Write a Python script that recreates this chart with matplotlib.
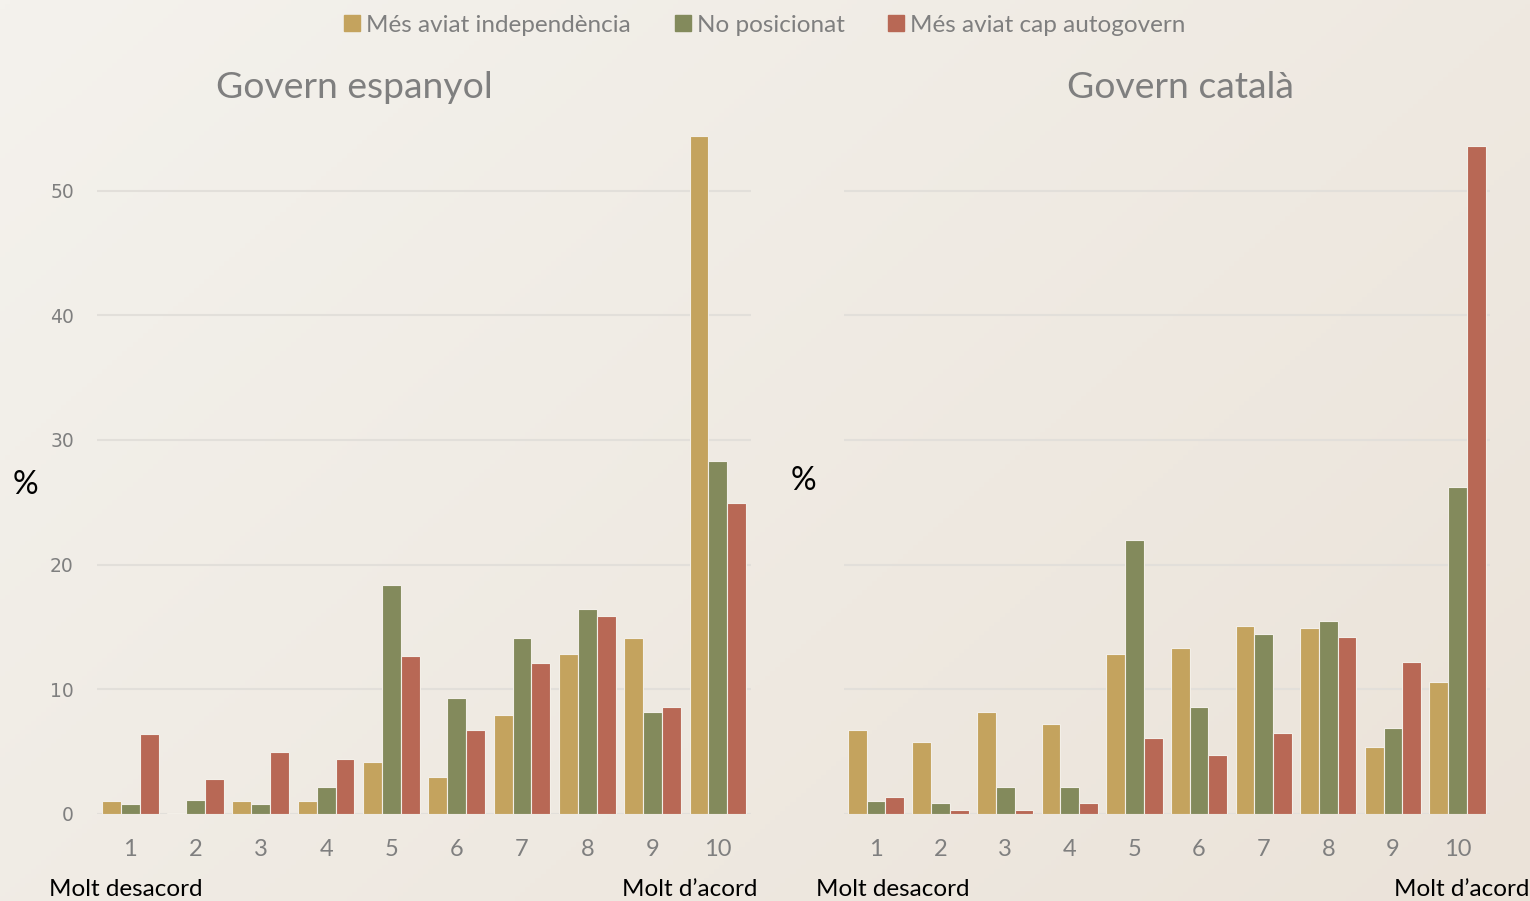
import numpy as np
import matplotlib.pyplot as plt
from matplotlib.colors import LinearSegmentedColormap
from matplotlib.patches import Patch

# values (%)
scale = ['1', '2', '3', '4', '5', '6', '7', '8', '9', '10']
series = ['Més aviat independència', 'No posicionat', 'Més aviat cap autogovern']
colors = ['#c4a35e', '#838a5c', '#b86855']

esp_indep = [1.0, 0.1, 1.0, 1.0, 4.2, 3.0, 7.9, 12.8, 14.1, 54.4]
esp_nopos = [0.8, 1.1, 0.8, 2.2, 18.4, 9.3, 14.1, 16.4, 8.2, 28.3]
esp_cap = [6.4, 2.8, 5.0, 4.4, 12.7, 6.7, 12.1, 15.9, 8.6, 24.9]

cat_indep = [6.7, 5.8, 8.2, 7.2, 12.8, 13.3, 15.1, 14.9, 5.4, 10.6]
cat_nopos = [1.0, 0.9, 2.2, 2.2, 22.0, 8.6, 14.4, 15.5, 6.9, 26.2]
cat_cap = [1.4, 0.3, 0.3, 0.9, 6.1, 4.7, 6.5, 14.2, 12.2, 53.6]

fig = plt.figure(figsize=(15.3, 9.01), dpi=100)

# soft beige gradient background
bg = fig.add_axes([0, 0, 1, 1], zorder=-10)
gx, gy = np.meshgrid(np.linspace(0, 1, 300), np.linspace(0, 1, 200))
grad = 0.6 * gx + 0.4 * gy
cmap = LinearSegmentedColormap.from_list('bg', ['#f4f2ed', '#ebe3d9'])
bg.imshow(grad, cmap=cmap, aspect='auto', extent=[0, 1, 0, 1], origin='upper')
bg.axis('off')

ax1 = fig.add_axes([0.0637, 0.0966, 0.4269, 0.775])
ax2 = fig.add_axes([0.5514, 0.0966, 0.4224, 0.775])

x = np.arange(1, len(scale) + 1)
w = 0.29
for ax, data in [(ax1, [esp_indep, esp_nopos, esp_cap]), (ax2, [cat_indep, cat_nopos, cat_cap])]:
    for i, vals in enumerate(data):
        ax.bar(x + (i - 1) * w, vals, w, color=colors[i], edgecolor='#f3efe8', linewidth=0.8, zorder=3)
    ax.set_xlim(0.5, 10.5)
    ax.set_ylim(0, 56)
    ax.set_yticks([0, 10, 20, 30, 40, 50])
    ax.yaxis.grid(True, color='#e2dfda', linewidth=1.5, zorder=0)
    ax.set_axisbelow(True)
    for s in ax.spines.values():
        s.set_visible(False)
    ax.set_facecolor('none')
    ax.set_xticks(x)
    ax.set_xticklabels(scale, fontsize=17, color='#7f7f7f', family='Lato')
    ax.tick_params(axis='x', length=0, pad=18)
    ax.tick_params(axis='y', length=0, pad=17, labelsize=13.5, labelcolor='#7f7f7f')

ax2.set_yticklabels([])

fig.text(354 / 1530, 1 - 88 / 901, 'Govern espanyol', fontsize=26.8, color='#7f7f7f', ha='center', va='center', family='Lato')
fig.text(1180 / 1530, 1 - 88 / 901, 'Govern català', fontsize=26.8, color='#7f7f7f', ha='center', va='center', family='Lato')

fig.text(25 / 1530, 1 - 485 / 901, '%', fontsize=23, ha='center', va='center', family='Lato')
fig.text(803 / 1530, 1 - 481 / 901, '%', fontsize=23, ha='center', va='center', family='Lato')

for xc, txt in [(126, 'Molt desacord'), (690, 'Molt d’acord'), (893, 'Molt desacord'), (1462, 'Molt d’acord')]:
    fig.text(xc / 1530, 1 - 889 / 901, txt, fontsize=17.5, ha='center', va='center', family='Lato')

handles = [Patch(color=c) for c in colors]
fig.legend(handles, series, loc='center', bbox_to_anchor=(0.5, 1 - 25 / 901), ncol=3, frameon=False,
           prop={'family': 'Lato', 'size': 17.5}, labelcolor='#7f7f7f', handlelength=0.65, handleheight=0.65,
           handletextpad=0.25, columnspacing=1.8)

fig.savefig('out.png', dpi=100)
